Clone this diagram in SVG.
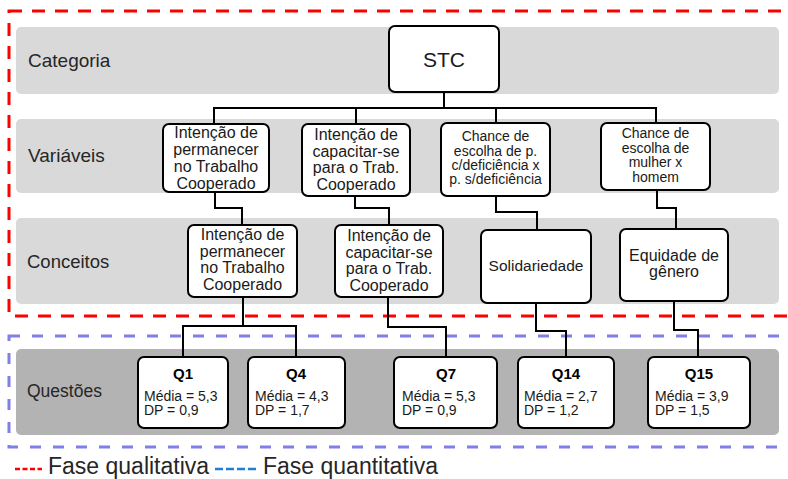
<svg xmlns="http://www.w3.org/2000/svg" width="788" height="479" viewBox="0 0 788 479">
  <style>
    .band { fill: #d9d9d9; }
    .band-q { fill: #b3b3b3; }
    .lbl { font-family: "Liberation Sans", Arial, sans-serif; fill: #262626; }
    .box { fill: #ffffff; stroke: #000000; stroke-width: 2; }
    .t { font-family: "Liberation Sans", Arial, sans-serif; fill: #1a1a1a; text-anchor: middle; }
    .q { font-family: "Liberation Sans", Arial, sans-serif; fill: #1a1a1a; font-size: 14px; }
    .qh { font-family: "Liberation Sans", Arial, sans-serif; fill: #000; font-size: 15px; font-weight: bold; text-anchor: middle; }
    .wire { fill: none; stroke: #000000; stroke-width: 2; }
  </style>

  <!-- phase frames -->
  <rect x="9" y="11" width="800" height="305" fill="none" stroke="#ff0000" stroke-width="3" stroke-dasharray="13 10"/>
  <rect x="9" y="336" width="800" height="111" fill="none" stroke="#7f7fe8" stroke-width="3" stroke-dasharray="11 12"/>

  <!-- level bands -->
  <g id="bands">
    <rect class="band" x="16" y="27" width="763" height="67" rx="5"/>
    <rect class="band" x="16" y="119" width="763" height="74" rx="5"/>
    <rect class="band" x="16" y="218" width="763" height="86" rx="5"/>
    <rect class="band-q" x="16" y="349" width="763" height="86" rx="5"/>
    <text class="lbl" x="28" y="67" font-size="19">Categoria</text>
    <text class="lbl" x="28" y="162" font-size="19">Variáveis</text>
    <text class="lbl" x="27" y="268" font-size="18.5">Conceitos</text>
    <text class="lbl" x="27" y="397" font-size="17.5">Questões</text>
  </g>

  <!-- connectors -->
  <g id="connectors" class="wire">
    <path d="M444 92 V108"/>
    <path d="M214 124 V108 H656 V123"/>
    <path d="M356 108 V124"/>
    <path d="M496 108 V123"/>
    <path d="M215 192 V208 H242 V225"/>
    <path d="M355 196 V208 H389 V225"/>
    <path d="M496 196 V212 H537 V230"/>
    <path d="M657 190 V208 H676 V229"/>
    <path d="M243 297 V326"/>
    <path d="M183 357 V326 H296 V357"/>
    <path d="M388 297 V327 H446 V357"/>
    <path d="M536 303 V331 H566 V357"/>
    <path d="M674 301 V330 H698 V357"/>
  </g>

  <!-- category -->
  <g id="stc">
    <rect class="box" x="389" y="26" width="110" height="66" rx="6"/>
    <text class="t" x="444" y="67" font-size="21">STC</text>
  </g>

  <!-- variables -->
  <g id="var-permanecer">
    <rect class="box" x="163" y="124" width="106" height="68" rx="6"/>
    <text class="t" font-size="16"><tspan x="216" y="138">Intenção de</tspan><tspan x="216" y="155">permanecer</tspan><tspan x="216" y="172">no Trabalho</tspan><tspan x="216" y="188.5">Cooperado</tspan></text>
  </g>
  <g id="var-capacitar">
    <rect class="box" x="302" y="124" width="108" height="72" rx="6"/>
    <text class="t" font-size="16"><tspan x="356" y="140">Intenção de</tspan><tspan x="356" y="157">capacitar-se</tspan><tspan x="356" y="173">para o Trab.</tspan><tspan x="356" y="189.5">Cooperado</tspan></text>
  </g>
  <g id="var-deficiencia">
    <rect class="box" x="441" y="123" width="109" height="73" rx="6"/>
    <text class="t" font-size="14"><tspan x="495.5" y="141">Chance de</tspan><tspan x="495.5" y="155.5">escolha de p.</tspan><tspan x="495.5" y="170">c/deficiência x</tspan><tspan x="495.5" y="184">p. s/deficiência</tspan></text>
  </g>
  <g id="var-genero">
    <rect class="box" x="601" y="123" width="109" height="67" rx="6"/>
    <text class="t" font-size="14"><tspan x="655.5" y="138">Chance de</tspan><tspan x="655.5" y="152.5">escolha de</tspan><tspan x="655.5" y="167">mulher x</tspan><tspan x="655.5" y="181.5">homem</tspan></text>
  </g>

  <!-- concepts -->
  <g id="con-permanecer">
    <rect class="box" x="188" y="225" width="109" height="72" rx="6"/>
    <text class="t" font-size="16"><tspan x="242.5" y="240">Intenção de</tspan><tspan x="242.5" y="256.7">permanecer</tspan><tspan x="242.5" y="273.3">no Trabalho</tspan><tspan x="242.5" y="290">Cooperado</tspan></text>
  </g>
  <g id="con-capacitar">
    <rect class="box" x="335" y="225" width="108" height="72" rx="6"/>
    <text class="t" font-size="16"><tspan x="389" y="241">Intenção de</tspan><tspan x="389" y="257.7">capacitar-se</tspan><tspan x="389" y="274.3">para o Trab.</tspan><tspan x="389" y="291">Cooperado</tspan></text>
  </g>
  <g id="con-solidariedade">
    <rect class="box" x="481" y="230" width="110" height="73" rx="6"/>
    <text class="t" x="536" y="271" font-size="15.5">Solidariedade</text>
  </g>
  <g id="con-equidade">
    <rect class="box" x="620" y="229" width="108" height="72" rx="6"/>
    <text class="t" font-size="16"><tspan x="674" y="261">Equidade de</tspan><tspan x="674" y="277">gênero</tspan></text>
  </g>

  <!-- questions -->
  <g id="q1">
    <rect class="box" x="138" y="357" width="90" height="71" rx="6"/>
    <text class="qh" x="183" y="379">Q1</text>
    <text class="q"><tspan x="144" y="400.5">Média = 5,3</tspan><tspan x="144" y="415">DP = 0,9</tspan></text>
  </g>
  <g id="q4">
    <rect class="box" x="248" y="357" width="97" height="71" rx="6"/>
    <text class="qh" x="296" y="379">Q4</text>
    <text class="q"><tspan x="255" y="400.5">Média = 4,3</tspan><tspan x="255" y="415">DP = 1,7</tspan></text>
  </g>
  <g id="q7">
    <rect class="box" x="394" y="357" width="103" height="71" rx="6"/>
    <text class="qh" x="446" y="379">Q7</text>
    <text class="q"><tspan x="402" y="400.5">Média = 5,3</tspan><tspan x="402" y="415">DP = 0,9</tspan></text>
  </g>
  <g id="q14">
    <rect class="box" x="518" y="357" width="96" height="71" rx="6"/>
    <text class="qh" x="566" y="379">Q14</text>
    <text class="q"><tspan x="524" y="400.5">Média = 2,7</tspan><tspan x="524" y="415">DP = 1,2</tspan></text>
  </g>
  <g id="q15">
    <rect class="box" x="648" y="357" width="102" height="71" rx="6"/>
    <text class="qh" x="699" y="379">Q15</text>
    <text class="q"><tspan x="655" y="400.5">Média = 3,9</tspan><tspan x="655" y="415">DP = 1,5</tspan></text>
  </g>

  <!-- legend -->
  <g id="legend">
    <line x1="15" y1="469" x2="42" y2="469" stroke="#ff0000" stroke-width="2.5" stroke-dasharray="5 2.5"/>
    <text class="lbl" x="48" y="474" font-size="23" fill="#1a1a1a">Fase qualitativa</text>
    <line x1="215" y1="469" x2="256" y2="469" stroke="#1f7fd6" stroke-width="2.5" stroke-dasharray="8 3"/>
    <text class="lbl" x="263" y="474" font-size="23" fill="#1a1a1a">Fase quantitativa</text>
  </g>
</svg>
